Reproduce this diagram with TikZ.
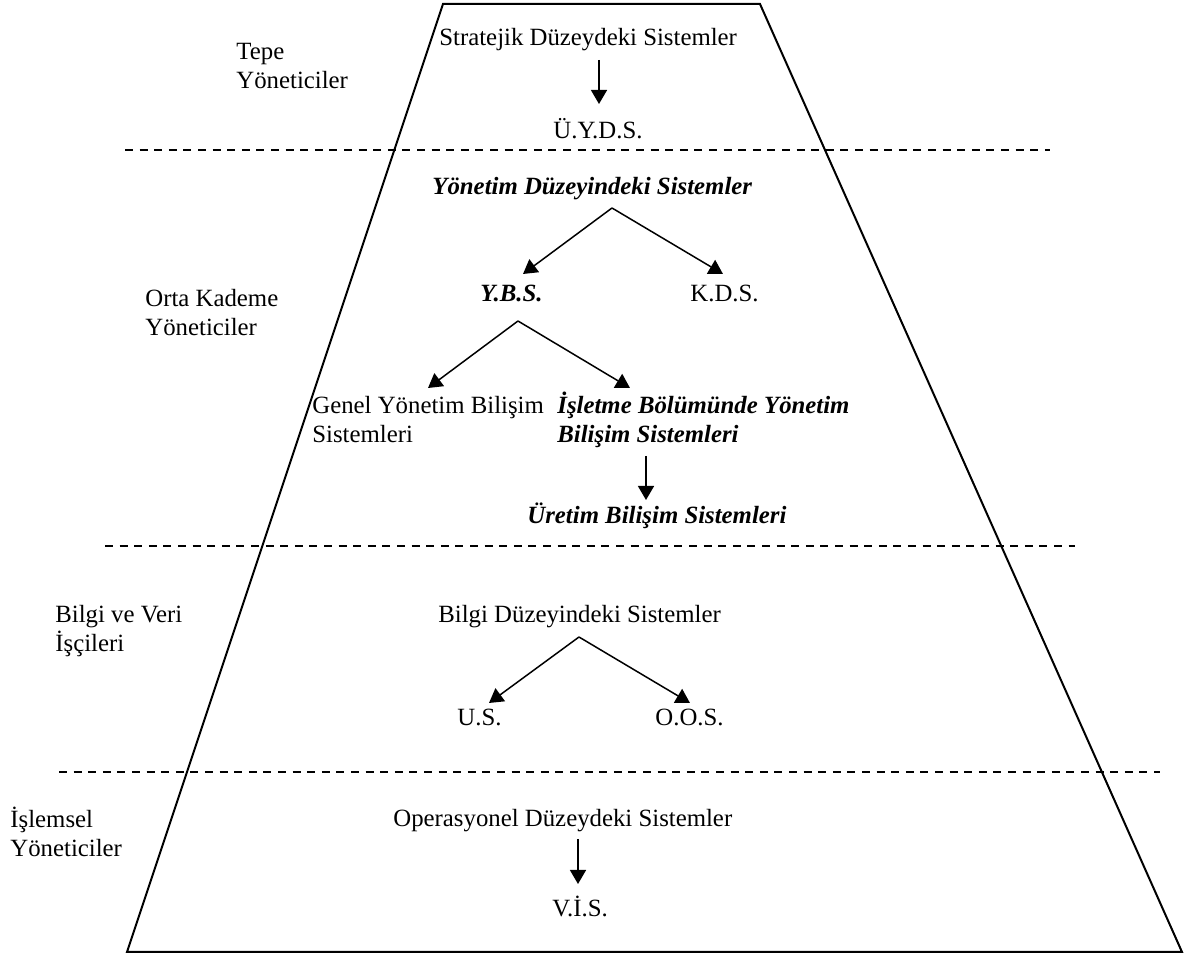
\documentclass[tikz,border=0pt]{standalone}
\usepackage{fontspec}
\setmainfont{Liberation Serif}
\usetikzlibrary{arrows.meta,calc}
\tikzset{
  lbl/.style={inner sep=0pt, anchor=base west, font=\fontsize{12.4}{14.5}\selectfont},
  ml/.style={lbl, align=left},
  bi/.style={font=\fontsize{12.4}{14.5}\selectfont\bfseries\itshape},
  arr/.style={line width=0.75pt, -{Triangle[length=7pt,width=8pt]}},
  sep/.style={line width=1pt, dash pattern=on 4pt off 3.3pt},
  frame/.style={line width=1pt, line join=miter}
}
\begin{document}
\begin{tikzpicture}[x=0.5pt,y=-0.5pt]
\useasboundingbox (0,0) rectangle (1191,956);
% pyramid
\draw[frame] (443,4) -- (760,4) -- (1182,952) -- (127,952) -- cycle;
% separators
\draw[sep] (125,150) -- (1050,150);
\draw[sep] (105,546) -- (1075,546);
\draw[sep] (59,772) -- (1160,772);
% left labels (anchor = baseline of last line)
\node[ml] (tepe) at (236,89) {Tepe\\Yöneticiler};
\node[ml] (orta) at (145,336) {Orta Kademe\\Yöneticiler};
\node[ml] (bilgiv) at (55,652) {Bilgi ve Veri\\İşçileri};
\node[ml] (islem) at (10,857) {İşlemsel\\Yöneticiler};
% nodes
\node[lbl] (strat) at (439,46) {Stratejik Düzeydeki Sistemler};
\node[lbl] (uyds) at (553,139) {Ü.Y.D.S.};
\node[lbl,bi] (ydsys) at (432,195) {Yönetim Düzeyindeki Sistemler};
\node[lbl,bi] (ybs) at (480,302) {Y.B.S.};
\node[lbl] (kds) at (690,302) {K.D.S.};
\node[ml] (genel) at (312,443) {Genel Yönetim Bilişim\\Sistemleri};
\node[ml,bi] (isletme) at (557,443) {İşletme Bölümünde Yönetim\\Bilişim Sistemleri};
\node[lbl,bi] (uretim) at (527,524) {Üretim Bilişim Sistemleri};
\node[lbl] (bilgi) at (438,623) {Bilgi Düzeyindeki Sistemler};
\node[lbl] (us) at (457,726) {U.S.};
\node[lbl] (oos) at (655,726) {O.O.S.};
\node[lbl] (oper) at (393,827) {Operasyonel Düzeydeki Sistemler};
\node[lbl] (vis) at (552,917) {V.İ.S.};
% connectors
\draw[arr] ($(strat.base west)+(160,14)$) -- ($(uyds.base west)+(46,-35)$);
\draw[arr] ($(ydsys.base west)+(180,13)$) -- ($(ybs.base west)+(43,-28)$);
\draw[arr] ($(ydsys.base west)+(180,13)$) -- ($(kds.base west)+(33,-28)$);
\draw[arr] ($(ybs.base west)+(38,19)$) -- ($(genel.base west)+(116,-55)$);
\draw[arr] ($(ybs.base west)+(38,19)$) -- ($(isletme.base west)+(73,-55)$);
\draw[arr] ($(isletme.base west)+(89,13)$) -- ($(uretim.base west)+(119,-24)$);
\draw[arr] ($(bilgi.base west)+(141,14)$) -- ($(us.base west)+(32,-23)$);
\draw[arr] ($(bilgi.base west)+(141,14)$) -- ($(oos.base west)+(35,-23)$);
\draw[arr] ($(oper.base west)+(185,12)$) -- ($(vis.base west)+(26,-33)$);
\end{tikzpicture}
\end{document}
